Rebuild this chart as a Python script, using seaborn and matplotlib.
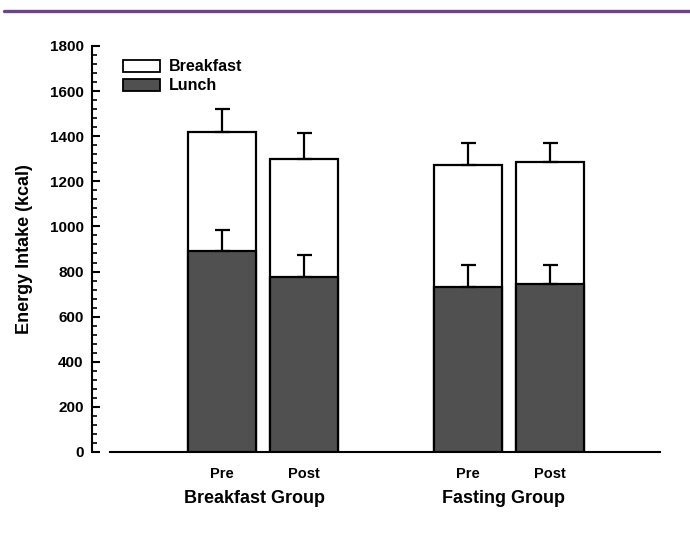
import numpy as np
import pandas as pd
import matplotlib
matplotlib.use("Agg")
import matplotlib.pyplot as plt
import seaborn as sns
from matplotlib.patches import Patch
from matplotlib.lines import Line2D
from matplotlib.ticker import MultipleLocator, AutoMinorLocator
from matplotlib.transforms import blended_transform_factory

# Data
groups = ["Breakfast Group", "Breakfast Group", "Fasting Group", "Fasting Group"]
phases = ["Pre", "Post", "Pre", "Post"]
lunch = [890, 776, 731, 745]
total = [1417, 1300, 1271, 1284]
lunch_sd = [94, 97, 98, 84]
total_sd = [105, 113, 97, 84]
group_names = ["Breakfast Group", "Fasting Group"]

sns.set_style("ticks")
plt.rcParams['font.family'] = ['Liberation Sans', 'DejaVu Sans']
plt.rcParams['font.weight'] = 'bold'
plt.rcParams['text.color'] = 'black'
plt.rcParams['axes.labelcolor'] = 'black'
plt.rcParams['xtick.color'] = 'black'
plt.rcParams['ytick.color'] = 'black'
plt.rcParams['axes.edgecolor'] = 'black'

positions = [0, 1, 3, 4]
df = pd.DataFrame({"pos": positions, "total": total, "lunch": lunch})

figure = plt.figure(figsize = (6.9, 5.4), dpi = 100)
axes = figure.add_axes([0.1333, 0.1630, 0.8232, 0.7519])

# Total bar (white, breakfast on top) then lunch bar over it
sns.barplot(data = df, x = "pos", y = "total", native_scale = True, width = 0.82,
            color = "white", edgecolor = "black", linewidth = 1.6, saturation = 1,
            errorbar = None, ax = axes, zorder = 2)
sns.barplot(data = df, x = "pos", y = "lunch", native_scale = True, width = 0.82,
            color = "#505050", edgecolor = "black", linewidth = 1.6, saturation = 1,
            errorbar = None, ax = axes, zorder = 3)

zeros = np.zeros(len(positions))
axes.errorbar(positions, total, yerr = [zeros, total_sd], fmt = 'none', ecolor = 'black',
              elinewidth = 1.6, capsize = 5.4, capthick = 1.6, zorder = 4)
axes.errorbar(positions, lunch, yerr = [zeros, lunch_sd], fmt = 'none', ecolor = 'black',
              elinewidth = 1.6, capsize = 5.4, capthick = 1.6, zorder = 4)

axes.set_xlim(-1.585, 5.34)
axes.set_ylim(0, 1800)
axes.yaxis.set_major_locator(MultipleLocator(200))
axes.yaxis.set_minor_locator(AutoMinorLocator(5))
axes.tick_params(axis = 'y', which = 'major', direction = 'in', length = 6, width = 1.5, labelsize = 11, pad = 6)
axes.tick_params(axis = 'y', which = 'minor', direction = 'in', length = 3.5, width = 1.2)
axes.set_xticks(positions, phases)
axes.tick_params(axis = 'x', length = 0, labelsize = 10.5, pad = 11)
for label in axes.get_xticklabels() + axes.get_yticklabels():
    label.set_fontweight('bold')

sns.despine(ax = axes)
axes.spines['left'].set_linewidth(1.5)
axes.spines['bottom'].set_linewidth(1.5)
axes.spines['bottom'].set_bounds(-1.366, 5.34)

axes.set_xlabel("")
axes.set_ylabel("Energy Intake (kcal)", fontsize = 13, fontweight = 'bold', labelpad = 12)

trans = blended_transform_factory(axes.transData, axes.transAxes)
axes.text(0.4, -0.115, group_names[0], transform = trans, ha = 'center', va = 'center',
          fontsize = 13, fontweight = 'bold')
axes.text(3.43, -0.115, group_names[1], transform = trans, ha = 'center', va = 'center',
          fontsize = 13, fontweight = 'bold')

handles = [Patch(facecolor = 'white', edgecolor = 'black', linewidth = 1.3, label = 'Breakfast'),
           Patch(facecolor = '#505050', edgecolor = 'black', linewidth = 1.3, label = 'Lunch')]
legend = axes.legend(handles = handles, loc = 'upper left', bbox_to_anchor = (0.043, 0.983),
                     frameon = False, handlelength = 2.3, handleheight = 0.8,
                     labelspacing = 0.25, handletextpad = 0.6, borderaxespad = 0,
                     prop = {'weight': 'bold', 'size': 11.5})

# Purple rule at top of the figure
figure.add_artist(Line2D([0.006, 1.0], [0.98, 0.98], transform = figure.transFigure,
                         color = '#6b4585', linewidth = 2.4))

figure.savefig("out.png", dpi = 100)
plt.close(figure)
